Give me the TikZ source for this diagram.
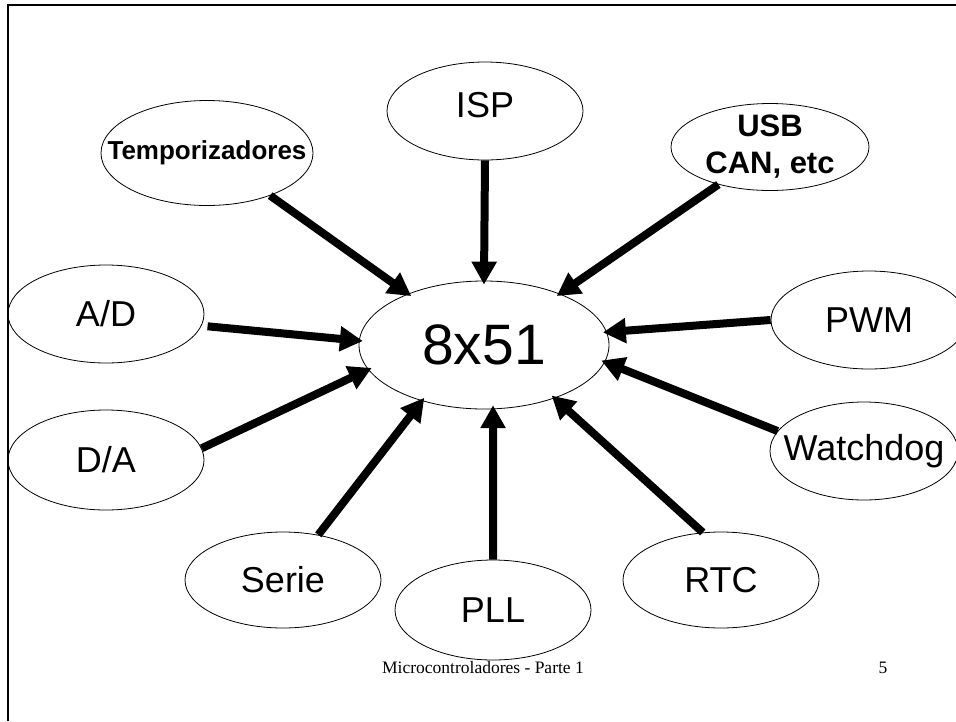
\documentclass[tikz,border=0pt]{standalone}
\usepackage{fontspec}
\setmainfont{Liberation Sans}
\newfontfamily\footfont{Liberation Serif}
\usetikzlibrary{shapes.geometric,arrows.meta}
\tikzset{
  bub/.style={ellipse, draw, line width=0.8pt, inner sep=0pt, minimum width=196pt, minimum height=98pt},
  lbl/.style={inner sep=0pt, font=\fontsize{36}{40}\selectfont},
  blbl/.style={inner sep=0pt, font=\fontsize{31}{37}\selectfont\bfseries, align=center},
  arr/.style={line width=8pt, shorten >=-4pt, -{Triangle[length=23pt,width=24pt]}},
  foot/.style={inner sep=0pt, font=\fontsize{17.5}{20}\selectfont\footfont}
}
\begin{document}
\begin{tikzpicture}[x=1pt,y=-1pt]
\useasboundingbox (0,0) rectangle (956,721);
\draw[line width=2.5pt] (8,721) -- (8,5) -- (956,5);
% center
\node[bub, minimum width=250pt, minimum height=128pt,
      label={[inner sep=0pt, font=\fontsize{57}{62}\selectfont]center:8x51}] (cpu) at (484,345) {};
% satellites
\node[bub, label={[lbl, yshift=6pt]center:ISP}] (isp) at (485,111) {};
\node[bub, minimum width=212pt, minimum height=105pt,
      label={[inner sep=0pt, font=\fontsize{26}{30}\selectfont\bfseries]center:Temporizadores}] (tmp) at (207,153) {};
\node[bub, minimum width=198pt, minimum height=87pt,
      label={[blbl]center:USB\\CAN, etc}] (usb) at (770,147) {};
\node[bub, label={[lbl]center:A/D}] (ad) at (106,314) {};
\node[bub, minimum height=100pt, label={[lbl]center:D/A}] (da) at (106,460) {};
\node[bub, label={[lbl]center:PWM}] (pwm) at (869,320) {};
\node[bub, minimum width=188pt, label={[lbl]center:Watchdog}] (wd) at (864,451) {};
\node[bub, minimum height=96pt, label={[lbl]center:Serie}] (ser) at (283,580) {};
\node[bub, minimum height=100pt, label={[lbl]center:PLL}] (pll) at (493,610) {};
\node[bub, minimum height=96pt, label={[lbl]center:RTC}] (rtc) at (721,580) {};
% arrows
\draw[arr] (tmp.-34) -- (cpu.146.5);
\draw[arr] (isp.south) -- (cpu.north);
\draw[arr] (usb.216) -- (cpu.34);
\draw[arr, shorten <=6pt] (ad.-7) -- (cpu.178);
\draw[arr] (pwm.west) -- (cpu.6.7);
\draw[arr] (da.7.6) -- (cpu.192.5);
\draw[arr] (wd.167) -- (cpu.-8.6);
\draw[arr] (ser.52) -- (cpu.222);
\draw[arr] (pll.north) -- (cpu.-82);
\draw[arr] (rtc.111.6) -- (cpu.-37.8);
% footer
\node[foot] (ft) at (483,668) {Microcontroladores - Parte 1};
\node[foot] (pg) at (883,668) {5};
\end{tikzpicture}
\end{document}
